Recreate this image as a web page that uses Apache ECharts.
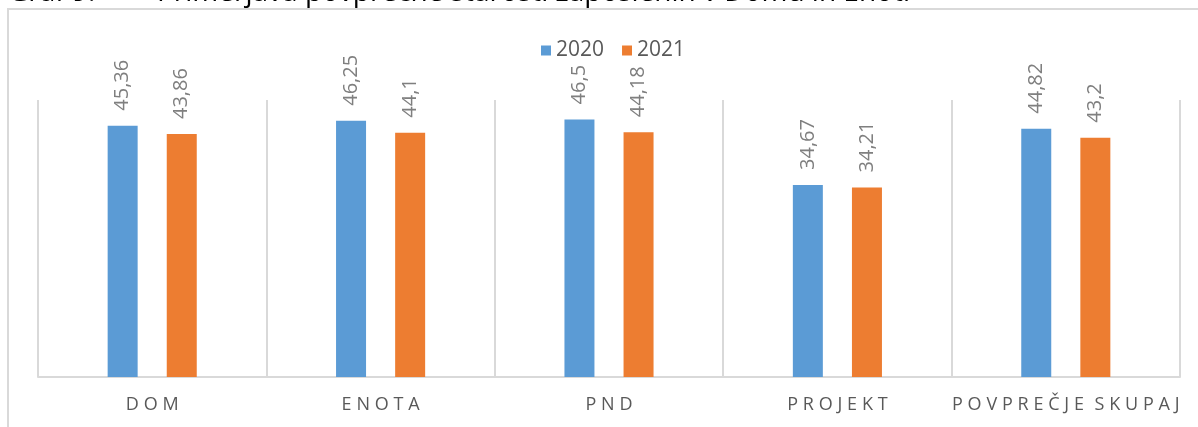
<!DOCTYPE html>
<html>
<head>
<meta charset="utf-8">
<script src="https://cdn.jsdelivr.net/npm/echarts@6/dist/echarts.min.js"></script>
<style>
  html, body { margin: 0; padding: 0; background: #fff; }
  #chart { width: 1198px; height: 427px; }
</style>
</head>
<body>
<div id="chart"></div>
<script>
// podatki
const categories = ['DOM', 'ENOTA', 'PND', 'PROJEKT', 'POVPREČJE SKUPAJ']
const seriesNames = ['2020', '2021']
const values2020 = [45.36, 46.25, 46.5, 34.67, 44.82]
const values2021 = [43.86, 44.1, 44.18, 34.21, 43.2]
const titleNum = 'Graf 9:'
const titleText = 'Primerjava povprečne starosti zaposlenih v Domu in Enoti'

const fontFamily = '"Open Sans", "Noto Sans", sans-serif'

// razmik med črkami (ECharts nima letterSpacing)
const spaced = v => v.split(' ').map(w => w.split('').join('\u2009\u200A')).join('\u2009\u00A0\u2009')

const barLabel = {
  show: true,
  position: 'top',
  rotate: 90,
  align: 'left',
  verticalAlign: 'middle',
  distance: 15,
  color: '#7f7f7f',
  fontSize: 20,
  fontFamily: fontFamily,
  formatter: p => String(p.value).replace('.', ',')
}

const chart = echarts.init(document.getElementById('chart'))
chart.setOption({
  animation: false,
  graphic: [
    {
      type: 'rect',
      shape: { x: 8, y: 9, width: 1400, height: 600 },
      style: { fill: 'none', stroke: '#d9d9d9', lineWidth: 2 }
    },
    {
      type: 'text',
      left: 8,
      top: -21,
      style: { text: titleNum, fontSize: 28, fontFamily: fontFamily, fill: '#000' }
    },
    {
      type: 'text',
      left: 157,
      top: -21,
      style: { text: titleText, fontSize: 28, fontFamily: fontFamily, fill: '#000' }
    }
  ],
  legend: {
    data: seriesNames,
    top: 35,
    left: 536,
    icon: 'rect',
    itemWidth: 10,
    itemHeight: 10,
    itemGap: 18,
    textStyle: { color: '#595959', fontSize: 21, fontFamily: fontFamily }
  },
  grid: {
    left: 38,
    right: 18,
    top: 100,
    bottom: 50
  },
  xAxis: {
    type: 'category',
    data: categories,
    axisLine: { lineStyle: { color: '#d9d9d9', width: 2 } },
    axisTick: { show: false },
    splitLine: { show: true, interval: 0, lineStyle: { color: '#d9d9d9', width: 2 } },
    axisLabel: {
      interval: 0,
      color: '#595959',
      fontSize: 18,
      fontFamily: fontFamily,
      margin: 19,
      formatter: spaced
    }
  },
  yAxis: {
    type: 'value',
    min: 0,
    max: 50,
    show: false,
    splitLine: { show: false }
  },
  series: [
    {
      name: seriesNames[0],
      type: 'bar',
      data: values2020,
      barWidth: 30,
      barGap: '97%',
      itemStyle: { color: '#5b9bd5' },
      label: barLabel
    },
    {
      name: seriesNames[1],
      type: 'bar',
      data: values2021,
      barWidth: 30,
      itemStyle: { color: '#ed7d31' },
      label: barLabel
    }
  ]
})
</script>
</body>
</html>
